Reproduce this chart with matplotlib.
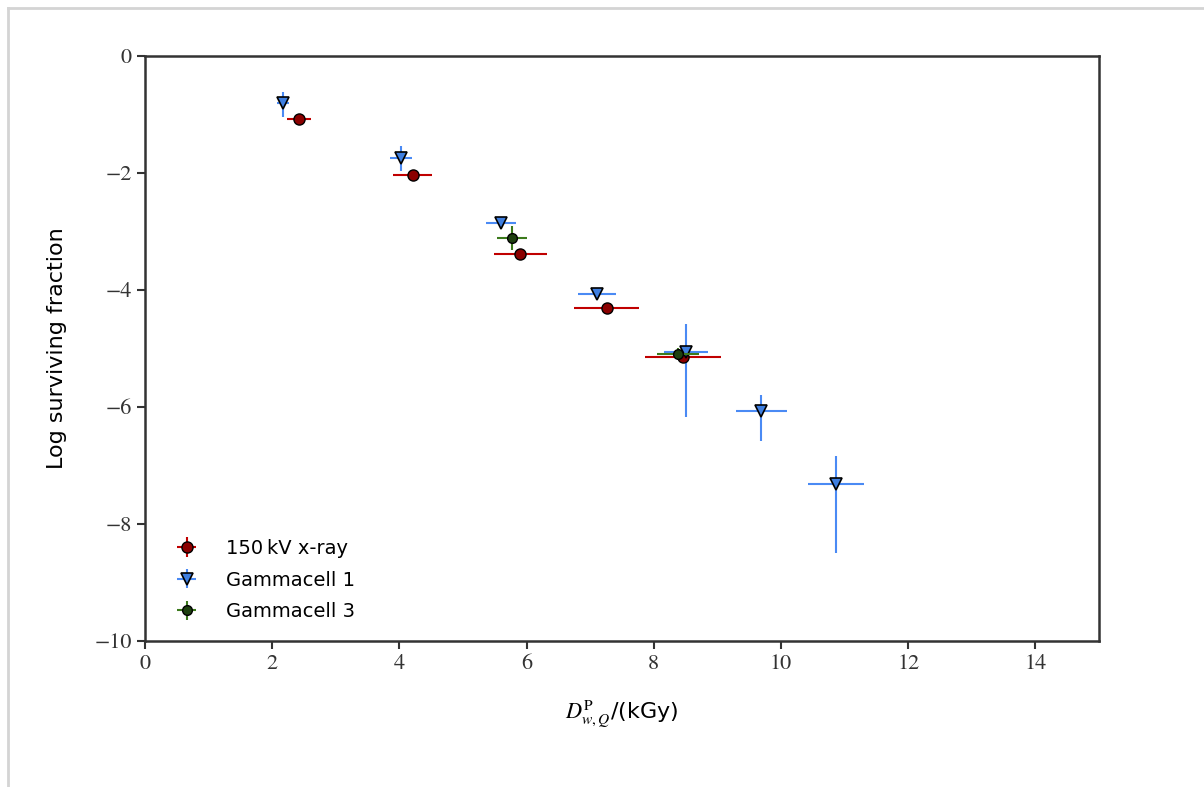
import matplotlib
matplotlib.use("Agg")
import matplotlib.pyplot as plt
from matplotlib.lines import Line2D

plt.rcParams['mathtext.fontset'] = 'stix'

# 150 kV x-ray
xray_dose = [2.42, 4.21, 5.90, 7.26, 8.46]
xray_logsf = [-1.08, -2.03, -3.38, -4.31, -5.15]
xray_xerr = [0.19, 0.31, 0.42, 0.51, 0.60]
xray_yerr = [0.05, 0.05, 0.05, 0.05, 0.05]

# Gammacell 1
g1_dose = [2.17, 4.03, 5.60, 7.11, 8.51, 9.69, 10.86]
g1_logsf = [-0.80, -1.74, -2.85, -4.07, -5.06, -6.07, -7.32]
g1_xerr = [0.10, 0.17, 0.24, 0.30, 0.35, 0.40, 0.44]
g1_yerr_low = [0.25, 0.22, 0.05, 0.05, 1.11, 0.51, 1.18]
g1_yerr_high = [0.18, 0.20, 0.05, 0.05, 0.48, 0.27, 0.48]

# Gammacell 3
g3_dose = [5.77, 8.38]
g3_logsf = [-3.11, -5.09]
g3_xerr = [0.24, 0.33]
g3_yerr = [0.20, 0.10]

fig = plt.figure(figsize=(12.04, 7.87), dpi=100)
ax = fig.add_axes([0.1204, 0.1855, 0.7924, 0.7433])

ax.errorbar(xray_dose, xray_logsf, xerr=xray_xerr, yerr=xray_yerr, fmt='o',
            color='#c00000', ecolor='#c00000', elinewidth=1.5,
            markerfacecolor='#8b0000', markeredgecolor='black', markersize=8,
            markeredgewidth=1.0, label='150\u2009kV x-ray', zorder=3)
ax.errorbar(g1_dose, g1_logsf, xerr=g1_xerr, yerr=[g1_yerr_low, g1_yerr_high],
            fmt='v', color='#4a8af4', ecolor='#4a8af4', elinewidth=1.5,
            markerfacecolor='#3f7fe0', markeredgecolor='black', markersize=8,
            markeredgewidth=1.2, label='Gammacell 1', zorder=3)
ax.errorbar(g3_dose, g3_logsf, xerr=g3_xerr, yerr=g3_yerr, fmt='o',
            color='#3c7a1c', ecolor='#3c7a1c', elinewidth=1.5,
            markerfacecolor='#1e4010', markeredgecolor='black', markersize=7,
            markeredgewidth=1.0, label='Gammacell 3', zorder=4)

ax.set_xlim(0, 15)
ax.set_ylim(-10, 0)
ax.set_xticks([0, 2, 4, 6, 8, 10, 12, 14])
ax.set_yticks([0, -2, -4, -6, -8, -10])
ax.set_xticklabels(['0', '2', '4', '6', '8', '10', '12', '14'])
ax.set_yticklabels(['0', '\u22122', '\u22124', '\u22126', '\u22128', '\u221210'])
for lab in ax.get_xticklabels() + ax.get_yticklabels():
    lab.set_fontfamily('STIXGeneral')
    lab.set_fontsize(16)
    lab.set_color('#333333')

ax.tick_params(direction='out', length=6, width=1.5, color='#333333', top=False, right=False)
for sp in ax.spines.values():
    sp.set_linewidth(1.8)
    sp.set_color('#333333')

ax.set_xlabel(r'$D^{\rm P}_{w,Q}$/(kGy)', fontsize=16, labelpad=18)
ax.set_ylabel('Log surviving fraction', fontsize=16, labelpad=20)

leg = ax.legend(loc='lower left', frameon=False, fontsize=14,
                bbox_to_anchor=(0.005, 0.004), handletextpad=1.0, labelspacing=0.65)

# Frame of the notebook output cell
fig.add_artist(Line2D([8/1204, 8/1204], [0, 1 - 8/787], transform=fig.transFigure,
                      color='#d4d4d4', linewidth=2))
fig.add_artist(Line2D([8/1204, 1], [1 - 8/787, 1 - 8/787], transform=fig.transFigure,
                      color='#d4d4d4', linewidth=2))

fig.savefig('out.png', dpi=100)
